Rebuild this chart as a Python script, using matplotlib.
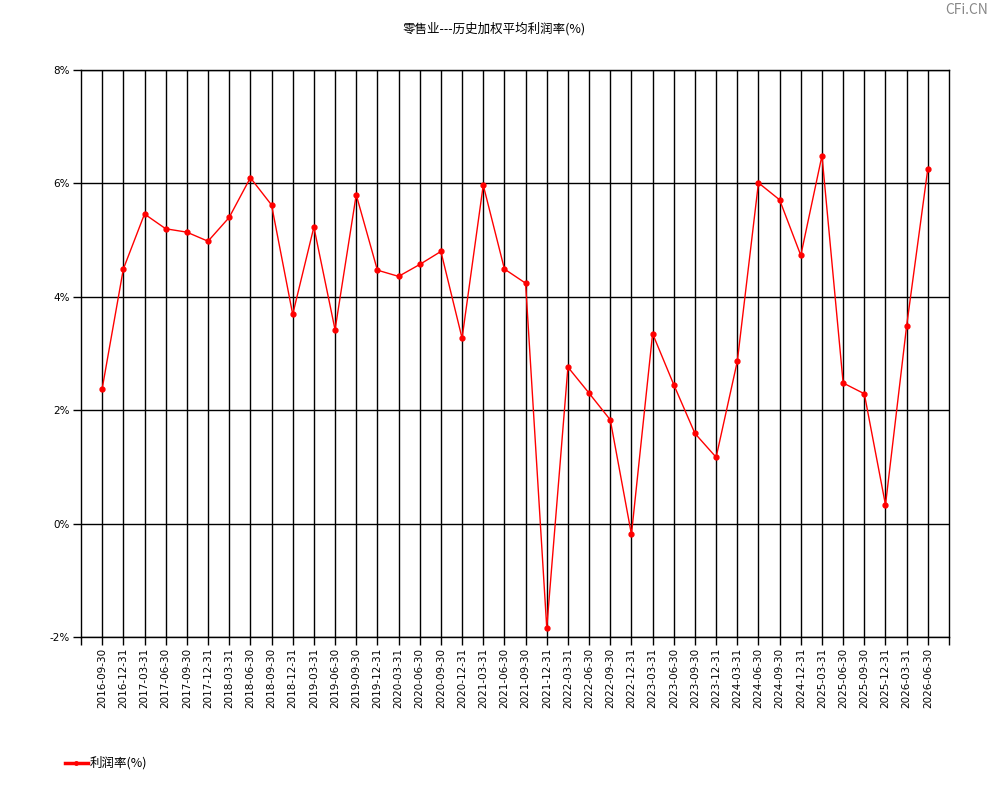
import matplotlib
matplotlib.use('Agg')
import matplotlib.pyplot as plt
from matplotlib.lines import Line2D

plt.rcParams['font.family'] = ['Noto Sans CJK SC', 'DejaVu Sans']

dates = ['2016-09-30', '2016-12-31',
         '2017-03-31', '2017-06-30', '2017-09-30', '2017-12-31',
         '2018-03-31', '2018-06-30', '2018-09-30', '2018-12-31',
         '2019-03-31', '2019-06-30', '2019-09-30', '2019-12-31',
         '2020-03-31', '2020-06-30', '2020-09-30', '2020-12-31',
         '2021-03-31', '2021-06-30', '2021-09-30', '2021-12-31',
         '2022-03-31', '2022-06-30', '2022-09-30', '2022-12-31',
         '2023-03-31', '2023-06-30', '2023-09-30', '2023-12-31',
         '2024-03-31', '2024-06-30', '2024-09-30', '2024-12-31',
         '2025-03-31', '2025-06-30', '2025-09-30', '2025-12-31',
         '2026-03-31', '2026-06-30']
profit = [2.38, 4.49,
          5.46, 5.20, 5.14, 4.98,
          5.40, 6.10, 5.62, 3.69,
          5.23, 3.42, 5.80, 4.47,
          4.36, 4.57, 4.80, 3.27,
          5.97, 4.49, 4.24, -1.84,
          2.76, 2.30, 1.83, -0.19,
          3.35, 2.45, 1.59, 1.17,
          2.86, 6.01, 5.71, 4.73,
          6.49, 2.48, 2.29, 0.33,
          3.49, 6.26]
yticks = [-2, 0, 2, 4, 6, 8]

fig = plt.figure(figsize=(9.9, 8), dpi=100)
ax = fig.add_axes([81/990, 163/800, 868/990, 567/800])

x = list(range(len(dates)))
ax.plot(x, profit, color='red', linewidth=1, marker='o', markersize=3.5)

ax.set_xlim(-1, len(dates))
ax.set_ylim(-2, 8)
ax.set_xticks(list(range(-1, len(dates) + 1)))
ax.set_xticklabels([''] + dates + [''], rotation=90, fontsize=7.5, family='DejaVu Sans')
ax.set_yticks(yticks)
ax.set_yticklabels([f'{v}%' for v in yticks], fontsize=7.5, family='DejaVu Sans')
ax.tick_params(axis='both', direction='out', length=6, width=1, color='black', pad=2)

for i in x:
    ax.axvline(i, color='black', linewidth=1, zorder=0)
for v in yticks:
    ax.axhline(v, color='black', linewidth=1, zorder=0)
for s in ax.spines.values():
    s.set_linewidth(1)

fig.text(494/990, 1 - 29/800, '零售业---历史加权平均利润率(%)', ha='center', va='center', fontsize=9)
fig.text(988/990, 1 - 10/800, 'CFi.CN', ha='right', va='center', fontsize=10, color='#888888')

handle = Line2D([], [], color='red', linewidth=2.5, marker='o', markersize=2.5)
fig.legend([handle], ['利润率(%)'], loc='lower left', bbox_to_anchor=(60/990, 25/800),
           frameon=False, fontsize=9, handlelength=1.8, borderaxespad=0, handletextpad=0.2)

fig.savefig('out.png', dpi=100)
